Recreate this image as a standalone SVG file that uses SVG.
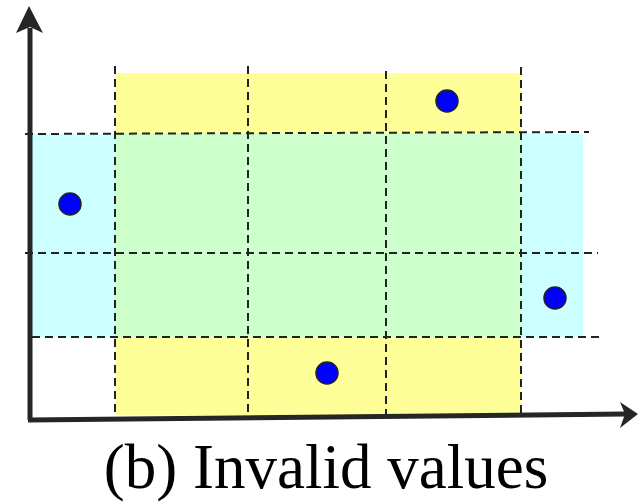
<svg xmlns="http://www.w3.org/2000/svg" width="638" height="504" viewBox="0 0 638 504">
<style>
.dash{stroke:#222;stroke-width:2;stroke-dasharray:8 5;fill:none}
.axis{stroke:#262626;stroke-width:5;fill:none}
.dot{fill:#0000ff;stroke:#222;stroke-width:1.5}
.cap{font-family:"Liberation Serif","Times New Roman",serif;font-size:63px;fill:#000}
</style>
<rect width="638" height="504" fill="#fff"/>
<g id="regions">
<rect x="32" y="134" width="83" height="203" fill="#ccffff"/>
<rect x="521" y="134" width="62" height="203" fill="#ccffff"/>
<rect x="115" y="73" width="406" height="61" fill="#ffff99"/>
<rect x="115" y="337" width="406" height="78" fill="#ffff99"/>
<rect x="115" y="134" width="406" height="203" fill="#ccffcc"/>
</g>
<g id="grid">
<line class="dash" x1="115" y1="66" x2="115" y2="416"/>
<line class="dash" x1="248" y1="66" x2="248" y2="416"/>
<line class="dash" x1="386" y1="71" x2="386" y2="415"/>
<line class="dash" x1="521" y1="67" x2="521" y2="414"/>
<line class="dash" x1="25" y1="134" x2="589" y2="132"/>
<line class="dash" x1="25" y1="253" x2="598" y2="253"/>
<line class="dash" x1="32" y1="337" x2="602" y2="337"/>
</g>
<g id="axes">
<line class="axis" x1="30" y1="420" x2="30" y2="28"/>
<polygon points="29,6 43,33 30,27 16,33" fill="#262626"/>
<line class="axis" x1="28" y1="420" x2="626" y2="414"/>
<polygon points="638,414 620,402 625,414 620,428" fill="#262626"/>
</g>
<g id="points">
<circle id="p1" class="dot" cx="447" cy="101" r="11"/>
<circle id="p2" class="dot" cx="70" cy="204" r="11"/>
<circle id="p3" class="dot" cx="555" cy="298" r="11"/>
<circle id="p4" class="dot" cx="327" cy="373" r="11"/>
</g>
<text class="cap" x="326" y="488" text-anchor="middle">(b) Invalid values</text>
</svg>
